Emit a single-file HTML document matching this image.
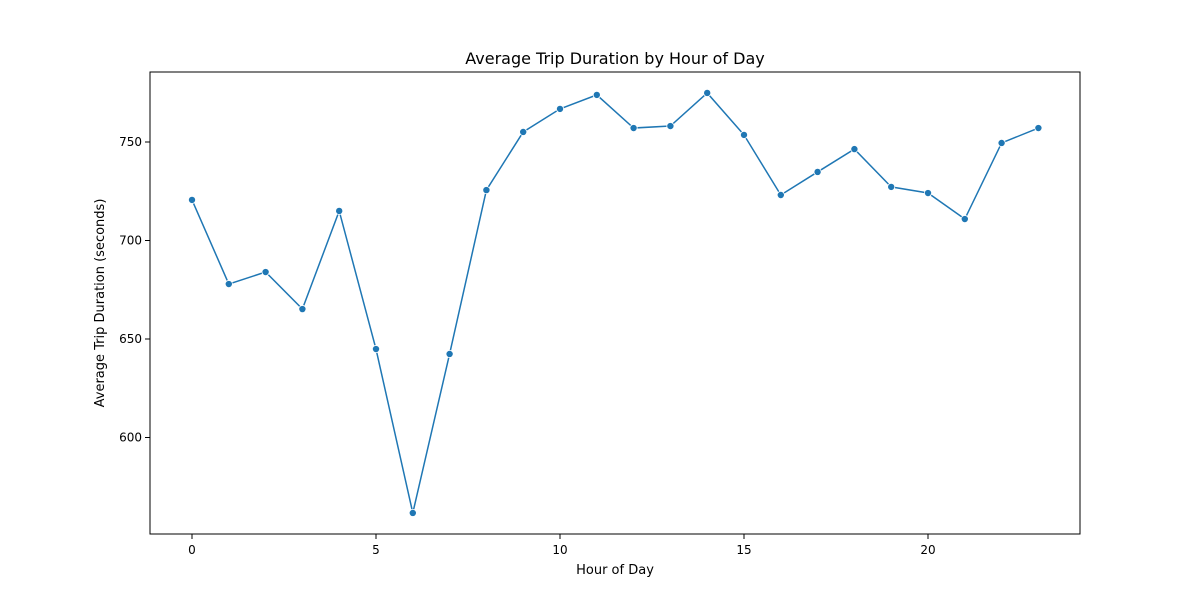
<!DOCTYPE html>
<html><head><meta charset="utf-8"><style>
body{margin:0;background:#fff;font-family:"DejaVu Sans","Liberation Sans",sans-serif;}
svg text{font-family:"DejaVu Sans","Liberation Sans",sans-serif;}
</style></head><body>
<svg id="chart" width="1200" height="600" xmlns="http://www.w3.org/2000/svg">
<rect width="1200" height="600" fill="#fff"/>
<text x="615" y="64" text-anchor="middle" font-size="16" fill="#000">Average Trip Duration by Hour of Day</text>
<text x="615" y="574" text-anchor="middle" font-size="13" fill="#000">Hour of Day</text>
<text transform="translate(104,303) rotate(-90)" text-anchor="middle" font-size="13" fill="#000">Average Trip Duration (seconds)</text>
<g id="plot"></g>
</svg>
<script>
const hours=[0,1,2,3,4,5,6,7,8,9,10,11,12,13,14,15,16,17,18,19,20,21,22,23];
const durations=[720.6,677.9,684,665.2,715,644.9,561.7,642.4,725.6,755.1,766.8,773.9,757.1,758.1,774.9,753.6,723.1,734.8,746.4,727.2,724.1,710.9,749.5,757.1];
const xTicks=[0,5,10,15,20];
const yTicks=[600,650,700,750];
const L=150,R=1080,T=72,B=534;
const xs=h=>192+(h-0)*36.8;
const ys=v=>142+(750-v)*1.97;
const ns="http://www.w3.org/2000/svg";
const g=document.getElementById('plot');
function mk(tag,attrs){const e=document.createElementNS(ns,tag);for(const k in attrs)e.setAttribute(k,attrs[k]);g.appendChild(e);return e;}
xTicks.forEach(t=>{
 const l=mk('line',{x1:xs(t),x2:xs(t),y1:B,y2:B+5,stroke:'#000','stroke-width':1});
 
 
 const tx=mk('text',{x:xs(t),y:B+20,'text-anchor':'middle','font-size':12});
 tx.textContent=t;
 
 
});
yTicks.forEach(t=>{
 const l=mk('line',{x1:L-5,x2:L,y1:ys(t),y2:ys(t),stroke:'#000','stroke-width':1});
 
 
 const tx=mk('text',{x:L-8,y:ys(t)+4,'text-anchor':'end','font-size':12});
 tx.textContent=t;
 
 
});
const pl=mk('polyline',{points:hours.map((h,i)=>xs(h)+','+ys(durations[i])).join(' '),fill:'none',stroke:'#1f77b4','stroke-width':1.5});


hours.forEach((h,i)=>{
 const c=mk('circle',{cx:xs(h),cy:ys(durations[i]),r:3.6,fill:'#1f77b4',stroke:'#fff','stroke-width':0.8});
 
 
});
const fr=mk('rect',{x:L,y:T,width:R-L,height:B-T,fill:'none',stroke:'#000','stroke-width':1});


</script>
</body></html>
